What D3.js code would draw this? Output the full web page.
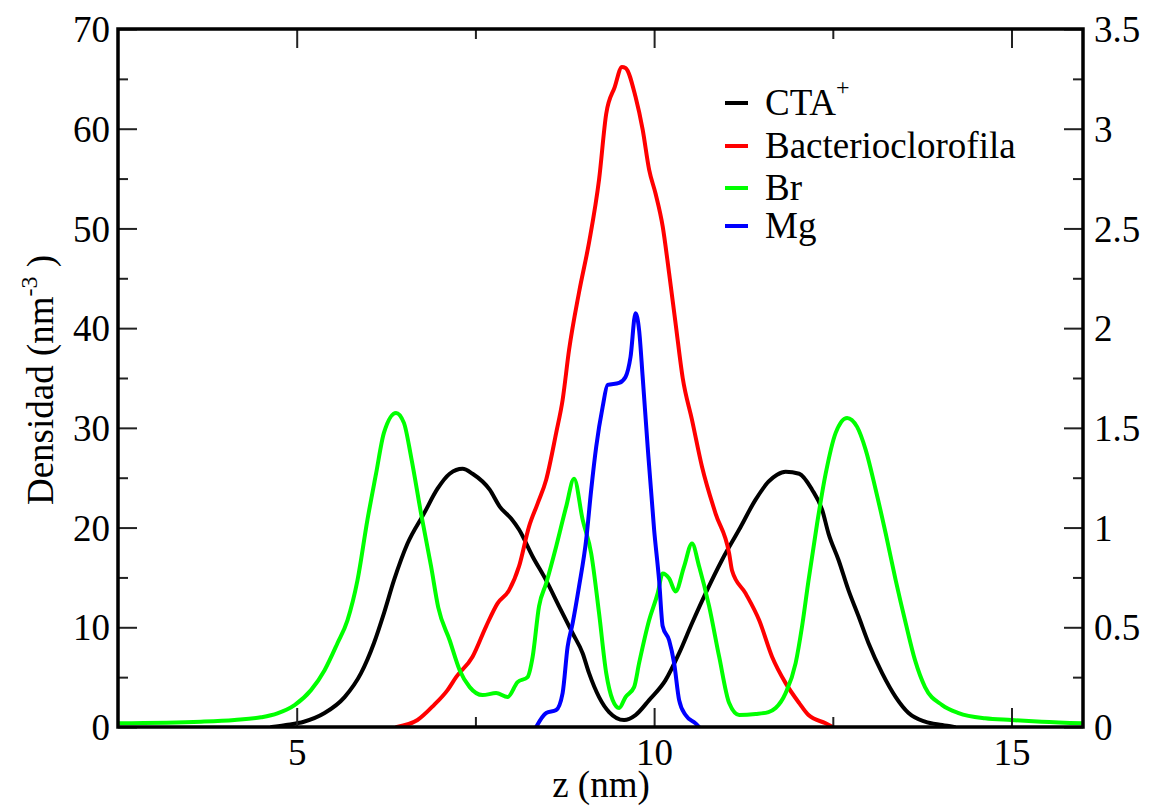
<!DOCTYPE html>
<html>
<head>
<meta charset="utf-8">
<script src="https://cdn.jsdelivr.net/npm/d3@7/dist/d3.min.js"></script>
<style>
  html, body { margin: 0; padding: 0; background: #fff; }
  svg { display: block; }
  text { font-family: "Liberation Serif", "Times New Roman", serif; fill: #000; }
</style>
</head>
<body>
<svg id="chart" width="1149" height="807"></svg>
<script>
// ---------- data ----------
const xTicksMajor = [5, 10, 15];
const xTicksMinor = [7.5, 12.5];
const yLeftTicksMajor = [0, 10, 20, 30, 40, 50, 60, 70];
const yLeftTicksMinor = [5, 15, 25, 35, 45, 55, 65];
const yRightTicksMajor = [0, 0.5, 1, 1.5, 2, 2.5, 3, 3.5];
const yRightTicksMinor = [0.25, 0.75, 1.25, 1.75, 2.25, 2.75, 3.25];

const seriesNames = ["CTA", "Bacterioclorofila", "Br", "Mg"];
const seriesColors = ["#000000", "#ff0000", "#00ff00", "#0000ff"];

const ctaZ = [4.65, 4.85, 5.1, 5.39, 5.67, 5.9, 6.08, 6.22, 6.36, 6.55, 6.78, 6.97, 7.14, 7.32, 7.46, 7.7, 7.84, 8.0, 8.11, 8.3, 8.49, 8.67, 8.86, 9.0, 9.09, 9.23, 9.37, 9.58, 9.74, 9.93, 10.16, 10.35, 10.53, 10.72, 10.95, 11.19, 11.42, 11.6, 11.72, 11.84, 12.03, 12.21, 12.35, 12.44, 12.58, 12.72, 12.86, 13.0, 13.19, 13.38, 13.56, 13.79, 14.03, 14.2];
const ctaD = [0.0, 0.2, 0.53, 1.4, 3.0, 5.4, 8.4, 11.4, 14.7, 18.4, 21.4, 23.9, 25.4, 25.9, 25.4, 23.8, 22.1, 20.9, 19.8, 17.1, 14.7, 12.1, 9.4, 7.4, 5.4, 3.0, 1.5, 0.7, 1.2, 2.7, 4.7, 7.4, 10.4, 13.4, 16.75, 19.8, 22.8, 24.6, 25.3, 25.6, 25.4, 23.8, 21.8, 19.4, 16.75, 13.7, 11.1, 8.4, 5.4, 3.0, 1.4, 0.53, 0.2, 0.0];

const bchlZ = [6.4, 6.69, 6.92, 7.11, 7.23, 7.46, 7.65, 7.81, 7.97, 8.11, 8.25, 8.37, 8.49, 8.63, 8.72, 8.81, 8.95, 9.09, 9.23, 9.33, 9.45, 9.55, 9.6, 9.74, 9.84, 9.93, 10.02, 10.12, 10.21, 10.3, 10.4, 10.53, 10.67, 10.86, 11.05, 11.09, 11.28, 11.47, 11.65, 11.84, 12.03, 12.16, 12.4, 12.5];
const bchlD = [0.0, 0.7, 2.2, 3.7, 5.0, 7.05, 10.1, 12.4, 13.7, 16.1, 20.1, 22.4, 24.8, 29.5, 32.8, 37.8, 43.6, 48.6, 54.9, 61.5, 64.2, 66.2, 66.1, 63.2, 59.9, 55.9, 53.5, 50.2, 45.5, 40.5, 35.0, 30.8, 26.1, 21.4, 17.4, 15.7, 13.4, 10.7, 7.05, 4.4, 2.4, 1.2, 0.37, 0.0];

const brZ = [2.5, 3.66, 4.13, 4.5, 4.73, 4.97, 5.2, 5.39, 5.57, 5.71, 5.85, 5.99, 6.11, 6.22, 6.39, 6.5, 6.6, 6.74, 6.88, 6.98, 7.14, 7.28, 7.42, 7.6, 7.79, 7.95, 8.09, 8.23, 8.3, 8.39, 8.49, 8.63, 8.77, 8.88, 9.0, 9.12, 9.23, 9.33, 9.42, 9.51, 9.6, 9.72, 9.79, 9.93, 10.05, 10.12, 10.21, 10.3, 10.42, 10.53, 10.63, 10.77, 10.91, 11.05, 11.19, 11.42, 11.6, 11.7, 11.84, 11.98, 12.07, 12.16, 12.28, 12.4, 12.54, 12.7, 12.84, 12.96, 13.1, 13.24, 13.38, 13.52, 13.65, 13.79, 14.03, 14.26, 14.63, 15.0, 15.42, 16.0];
const brD = [0.37, 0.53, 0.7, 0.97, 1.37, 2.2, 3.7, 5.7, 8.4, 10.7, 14.7, 20.8, 25.4, 29.5, 31.5, 30.5, 27.1, 21.4, 16.1, 12.0, 8.7, 5.7, 4.0, 3.2, 3.4, 3.0, 4.5, 5.0, 7.0, 12.1, 14.4, 18.1, 22.1, 24.9, 20.8, 17.4, 11.4, 5.4, 2.7, 1.9, 3.0, 4.0, 6.4, 10.7, 13.4, 15.4, 14.9, 13.6, 16.1, 18.4, 16.1, 12.1, 7.05, 2.4, 1.2, 1.3, 1.5, 1.9, 3.4, 6.4, 10.1, 14.7, 20.4, 25.4, 29.5, 31.0, 30.1, 27.8, 23.8, 19.4, 14.7, 10.4, 6.7, 4.0, 2.2, 1.4, 0.87, 0.7, 0.53, 0.37];

// Mg density, expressed in left-axis units
const mgZ = [8.35, 8.49, 8.63, 8.72, 8.79, 8.86, 8.95, 9.05, 9.12, 9.19, 9.28, 9.35, 9.51, 9.6, 9.67, 9.74, 9.79, 9.84, 9.91, 10.0, 10.07, 10.12, 10.21, 10.28, 10.35, 10.44, 10.58, 10.63];
const mgD = [0.0, 1.4, 1.7, 3.4, 8.05, 10.4, 14.1, 18.8, 23.8, 28.1, 32.1, 34.3, 34.5, 35.1, 37.1, 41.5, 39.8, 35.1, 28.1, 19.8, 14.7, 10.1, 8.7, 6.4, 2.7, 1.2, 0.37, 0.0];

const seriesZ = [ctaZ, bchlZ, brZ, mgZ];
const seriesD = [ctaD, bchlD, brD, mgD];

// ---------- layout ----------
const L = 118, R = 1083, T = 29, B = 727;
const svg = d3.select("#chart");

const x = d3.scaleLinear().domain([2.5, 16]).range([L, R]);
const y = d3.scaleLinear().domain([0, 70]).range([B, T]);
const y2 = d3.scaleLinear().domain([0, 3.5]).range([B, T]);

const FS = 37;
const MAJ = 19, MIN = 10;

// clip
svg.append("defs").append("clipPath").attr("id", "clip")
  .append("rect").attr("x", L).attr("y", T).attr("width", R - L).attr("height", B - T);

// curves
const line = d3.line().x(d => x(d[0])).y(d => y(d[1])).curve(d3.curveMonotoneX);
const gLines = svg.append("g").attr("clip-path", "url(#clip)");
seriesZ.forEach((zs, i) => {
  const pts = zs.map((z, j) => [z, seriesD[i][j]]);
  gLines.append("path").datum(pts)
    .attr("d", line)
    .attr("fill", "none")
    .attr("stroke", seriesColors[i])
    .attr("stroke-width", 4)
    .attr("stroke-linejoin", "round")
    .attr("stroke-linecap", "round");
});

// axes helpers
function styleAxis(g) {
  g.select(".domain").remove();
  g.selectAll(".tick line").attr("stroke", "#222").attr("stroke-width", 2);
  g.selectAll("text").style("font-family", '"Liberation Serif", serif').style("font-size", FS + "px").attr("fill", "#000");
}

// bottom
const gxB = svg.append("g").attr("transform", `translate(0,${B})`)
  .call(d3.axisBottom(x).tickValues(xTicksMajor).tickSize(-MAJ).tickPadding(0).tickFormat(d3.format("d")));
styleAxis(gxB);
gxB.selectAll("text").attr("y", 38).attr("dy", 0);
const gxBm = svg.append("g").attr("transform", `translate(0,${B})`)
  .call(d3.axisBottom(x).tickValues(xTicksMinor).tickSize(-MIN).tickFormat(""));
styleAxis(gxBm);

// top (mirrored ticks)
const gxT = svg.append("g").attr("transform", `translate(0,${T})`)
  .call(d3.axisTop(x).tickValues(xTicksMajor).tickSize(-MAJ).tickFormat(""));
styleAxis(gxT);
const gxTm = svg.append("g").attr("transform", `translate(0,${T})`)
  .call(d3.axisTop(x).tickValues(xTicksMinor).tickSize(-MIN).tickFormat(""));
styleAxis(gxTm);

// left
const gyL = svg.append("g").attr("transform", `translate(${L},0)`)
  .call(d3.axisLeft(y).tickValues(yLeftTicksMajor).tickSize(-MAJ).tickPadding(8).tickFormat(d3.format("d")));
styleAxis(gyL);
gyL.selectAll("text").attr("x", -8).attr("dy", "0.34em");
const gyLm = svg.append("g").attr("transform", `translate(${L},0)`)
  .call(d3.axisLeft(y).tickValues(yLeftTicksMinor).tickSize(-MIN).tickFormat(""));
styleAxis(gyLm);

// right
const gyR = svg.append("g").attr("transform", `translate(${R},0)`)
  .call(d3.axisRight(y2).tickValues(yRightTicksMajor).tickSize(-MAJ).tickFormat(d => d3.format("")(d)));
styleAxis(gyR);
gyR.selectAll("text").attr("x", 11).attr("dy", "0.34em");
const gyRm = svg.append("g").attr("transform", `translate(${R},0)`)
  .call(d3.axisRight(y2).tickValues(yRightTicksMinor).tickSize(-MIN).tickFormat(""));
styleAxis(gyRm);

// frame
svg.append("rect").attr("x", L).attr("y", T).attr("width", R - L).attr("height", B - T)
  .attr("fill", "none").attr("stroke", "#000").attr("stroke-width", 3.5);

// axis titles
svg.append("text").attr("x", 601).attr("y", 797).attr("text-anchor", "middle")
  .style("font-size", FS + "px").text("z (nm)");

const yt = svg.append("text").attr("transform", `translate(53,380) rotate(-90)`).attr("text-anchor", "middle")
  .style("font-size", FS + "px");
yt.append("tspan").text("Densidad (nm");
yt.append("tspan").attr("dy", -16).style("font-size", "24px").text("-3");
yt.append("tspan").attr("dy", 16).text(" )");

// legend
const legY = [103, 146, 188, 226];
const gLeg = svg.append("g");
seriesNames.forEach((name, i) => {
  gLeg.append("line").attr("x1", 725).attr("x2", 748).attr("y1", legY[i]).attr("y2", legY[i])
    .attr("stroke", seriesColors[i]).attr("stroke-width", 4);
  const t = gLeg.append("text").attr("x", 765).attr("y", legY[i] + 12).style("font-size", FS + "px");
  t.append("tspan").text(name);
  if (i === 0) t.append("tspan").attr("dy", -20).style("font-size", "24px").text("+");
});
</script>
</body>
</html>
